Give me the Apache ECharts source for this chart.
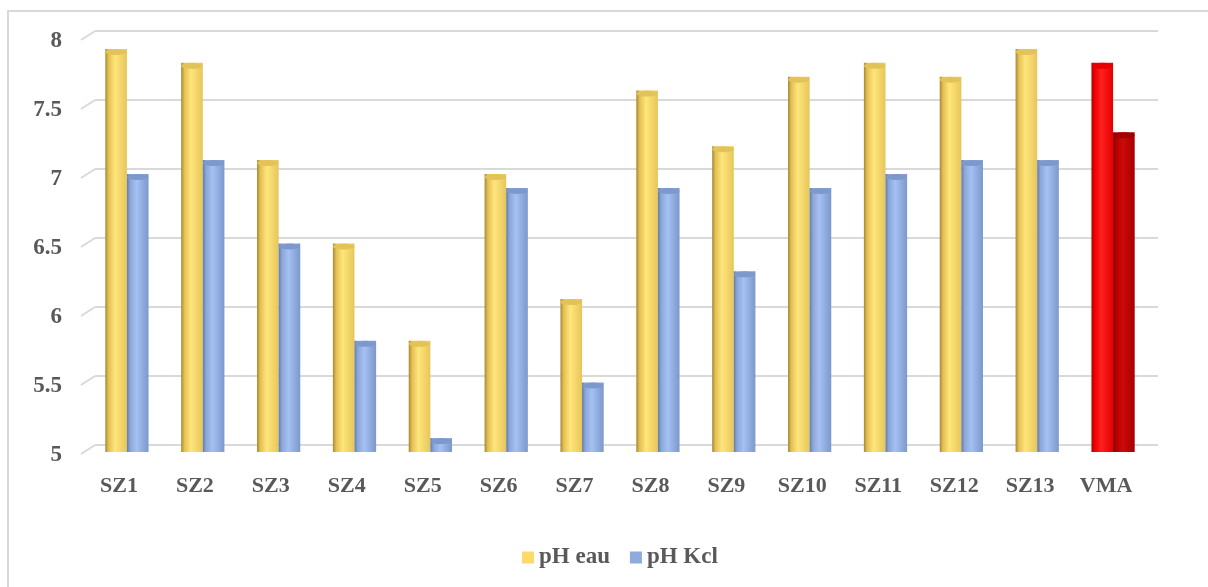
<!DOCTYPE html>
<html><head><meta charset="utf-8">
<script src="https://cdn.jsdelivr.net/npm/echarts@6/dist/echarts.min.js"></script>
<style>html,body{margin:0;padding:0;background:#fff}#c{width:1208px;height:587px}</style>
</head><body><div id="c"></div>
<script>
const categories = ['SZ1','SZ2','SZ3','SZ4','SZ5','SZ6','SZ7','SZ8','SZ9','SZ10','SZ11','SZ12','SZ13','VMA'];
const phEau = [7.9, 7.8, 7.1, 6.5, 5.8, 7.0, 6.1, 7.6, 7.2, 7.7, 7.8, 7.7, 7.9, 7.8];
const phKcl = [7.0, 7.1, 6.5, 5.8, 5.1, 6.9, 5.5, 6.9, 6.3, 6.9, 7.0, 7.1, 7.1, 7.3];
const yTicks = [5, 5.5, 6, 6.5, 7, 7.5, 8];
const seriesNames = ['pH eau', 'pH Kcl'];

const G = echarts.graphic.LinearGradient;
const grad = (a,b,c,d) => new G(0,0,1,0,[{offset:0,color:a},{offset:0.15,color:b},{offset:0.45,color:c},{offset:1,color:d}]);
const yellowG = grad('#a88732','#e3c052','#ffe57c','#e6c65a');
const blueG = grad('#627aa6','#8ba6d9','#a5c1f2','#7c98cc');
const redG = grad('#b00000','#ee0000','#ff2020','#e40000');
const dredG = grad('#850000','#b30000','#cc0a0a','#a60000');

const font = 'Liberation Serif';
const txt = '#595959';

function bodyData(vals, normal, last){
  return vals.map((v,i)=> ({value:v, itemStyle:{color: i===vals.length-1 ? last : normal}}));
}

const chart = echarts.init(document.getElementById('c'));
chart.setOption({
  animation:false,
  graphic:[{type:'rect', shape:{x:8,y:11,width:1220,height:600}, style:{fill:'none', stroke:'#d9d9d9', lineWidth:2}, silent:true}],
  grid:[
    {left:89, right:57, top:35, bottom:135},
    {left:95, right:50, top:31, bottom:142},
    {left:81, right:64, top:41, bottom:132}
  ],
  xAxis:[
    {gridIndex:0, type:'category', data:categories, show:false},
    {gridIndex:1, type:'category', data:categories, show:false},
    {gridIndex:2, type:'category', data:categories, axisLine:{show:false}, axisTick:{show:false},
      axisLabel:{fontFamily:font, fontWeight:'bold', fontSize:22, color:txt, margin:20}}
  ],
  yAxis:[
    {gridIndex:0, type:'value', min:5, max:8, interval:0.5, show:false},
    {gridIndex:1, type:'value', min:5, max:8, interval:0.5, axisLine:{show:false}, axisTick:{show:false}, axisLabel:{show:false},
      splitLine:{lineStyle:{color:'#d9d9d9', width:2}}},
    {gridIndex:2, type:'value', min:5, max:8, interval:0.5, axisLine:{show:false}, axisTick:{show:false}, splitLine:{show:false},
      axisLabel:{fontFamily:font, fontWeight:'bold', fontSize:23, color:txt, margin:19}}
  ],
  legend:{
    data:[{name:seriesNames[0], itemStyle:{color:'#ffd966'}},{name:seriesNames[1], itemStyle:{color:'#8faadc'}}],
    left:517, top:541, icon:'rect', itemWidth:12, itemHeight:12, itemGap:20, itemTextGap:5,
    textStyle:{fontFamily:font, fontWeight:'bold', fontSize:23, color:txt}
  },
  series:[
    {type:'custom', xAxisIndex:1, yAxisIndex:1, data:yTicks, silent:true, z:1,
      renderItem:(params, api)=>{
        const p = api.coord([0, api.value(0)]);
        const x0 = params.coordSys.x;
        return {type:'line', shape:{x1:x0, y1:p[1], x2:x0-14, y2:p[1]+9}, style:{stroke:'#d9d9d9', lineWidth:2}};
      }, encode:{y:0}},
    {name:seriesNames[0], type:'bar', xAxisIndex:0, yAxisIndex:0, data:bodyData(phEau, yellowG, redG),
      barGap:'0%', barCategoryGap:'43%', itemStyle:{color:'#ffd966'}, z:2},
    {name:seriesNames[1], type:'bar', xAxisIndex:0, yAxisIndex:0, data:bodyData(phKcl, blueG, dredG),
      barGap:'0%', barCategoryGap:'43%', itemStyle:{color:'#8faadc'}, z:2},
    {name:'capE', type:'pictorialBar', xAxisIndex:0, yAxisIndex:0, data:bodyData(phEau, '#e3c257', '#e80000'),
      symbol:'circle', symbolSize:['100%',6], symbolPosition:'end', barGap:'0%', barCategoryGap:'43%', z:3, silent:true},
    {name:'capK', type:'pictorialBar', xAxisIndex:0, yAxisIndex:0, data:bodyData(phKcl, '#7d98cc', '#a00000'),
      symbol:'circle', symbolSize:['100%',6], symbolPosition:'end', barGap:'0%', barCategoryGap:'43%', z:3, silent:true}
  ]
});
</script></body></html>
